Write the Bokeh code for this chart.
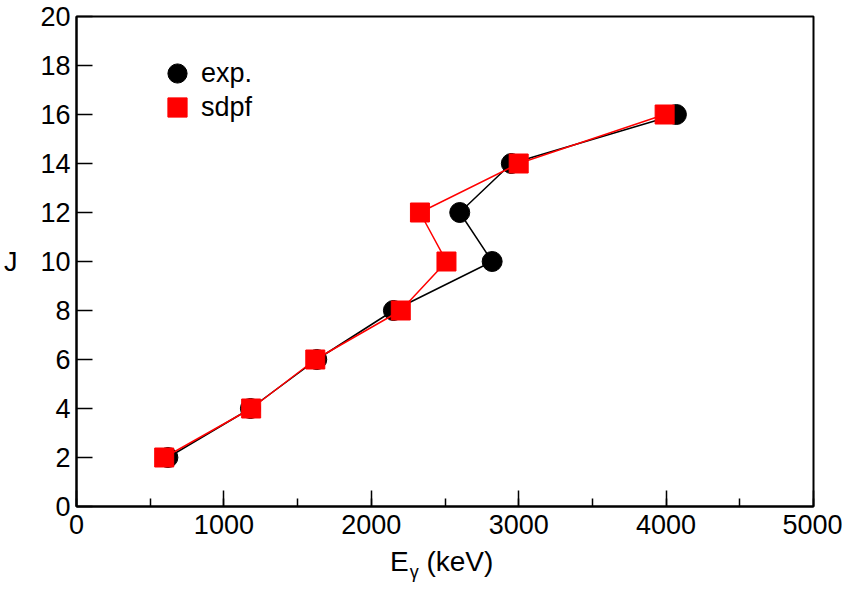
from bokeh.plotting import figure
from bokeh.models import Range1d, SingleIntervalTicker, Legend, LegendItem, Div
from bokeh.layouts import column
from bokeh.embed import file_html
from bokeh.resources import INLINE

# data
spin_J = [2, 4, 6, 8, 10, 12, 14, 16]
exp_E = [620, 1180, 1630, 2150, 2820, 2600, 2950, 4070]
sdpf_E = [595, 1185, 1620, 2200, 2510, 2330, 3000, 3990]
x_ticks_interval = 1000
y_ticks_interval = 2

FONT = "Liberation Sans"

p = figure(width=842, height=542, output_backend="svg", toolbar_location=None,
           x_range=Range1d(0, 5000), y_range=Range1d(0, 20),
           min_border_left=75, min_border_right=29, min_border_top=16, min_border_bottom=36)
p.background_fill_color = "white"
p.border_fill_color = "white"
p.outline_line_color = "black"
p.outline_line_width = 2
p.xgrid.visible = False
p.ygrid.visible = False

p.xaxis.ticker = SingleIntervalTicker(interval=x_ticks_interval, num_minor_ticks=2)
p.yaxis.ticker = SingleIntervalTicker(interval=y_ticks_interval, num_minor_ticks=0)
for ax in (p.xaxis, p.yaxis):
    ax.axis_line_color = "black"
    ax.axis_line_width = 2
    ax.major_tick_in = 16
    ax.major_tick_out = 0
    ax.minor_tick_in = 8
    ax.minor_tick_out = 0
    ax.major_tick_line_color = "black"
    ax.minor_tick_line_color = "black"
    ax.major_tick_line_width = 1.5
    ax.minor_tick_line_width = 1.5
    ax.major_label_text_font = FONT
    ax.major_label_text_font_size = "27px"
    ax.major_label_text_color = "black"
p.xaxis.major_label_standoff = 8
p.yaxis.major_label_standoff = 6

# y axis title "J" (upright)
yax = p.yaxis[0]
yax.axis_label = "J"
yax.axis_label_text_font = FONT
yax.axis_label_text_font_size = "27px"
yax.axis_label_text_font_style = "normal"
yax.axis_label_text_color = "black"
yax.axis_label_standoff = 20
if "axis_label_orientation" in yax.properties():
    yax.axis_label_orientation = "horizontal"

l1 = p.line(exp_E, spin_J, line_color="black", line_width=1.5)
c1 = p.scatter(exp_E, spin_J, marker="circle", size=20, fill_color="black", line_color="black")
l2 = p.line(sdpf_E, spin_J, line_color="red", line_width=1.5)
c2 = p.scatter(sdpf_E, spin_J, marker="square", size=19, fill_color="red", line_color="red")

common = dict(glyph_width=48, glyph_height=48, label_standoff=-6, padding=0, margin=0,
              border_line_alpha=0, background_fill_alpha=0,
              label_text_font=FONT, label_text_font_size="27px", label_text_color="black")
leg1 = Legend(items=[LegendItem(label="exp.", renderers=[c1])], location=(77, 409), **common)
leg2 = Legend(items=[LegendItem(label="sdpf", renderers=[c2])], location=(77, 375), **common)
p.add_layout(leg1, "center")
p.add_layout(leg2, "center")

xlabel = Div(
    text=('<div style="margin-left:390px; padding-top:6px; font-family:\'Liberation Sans\'; '
          'font-size:28px; line-height:28px; white-space:nowrap; color:black;">'
          'E<span style="font-size:18px; position:relative; top:7px; margin-left:1px;">γ</span>'
          ' (keV)</div>'),
    width=842, height=46, margin=0)

layout = column(p, xlabel, spacing=0)

open("out.html", "w").write(file_html(layout, INLINE))
